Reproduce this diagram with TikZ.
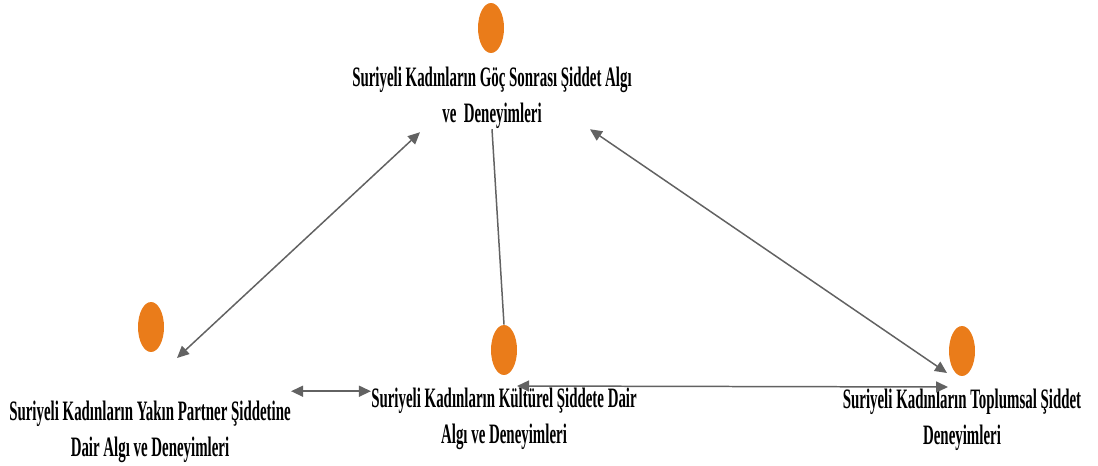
\documentclass[tikz,border=0pt]{standalone}
\usepackage{fontspec}
\newfontfamily\condserif[FakeStretch=0.53]{Liberation Serif}
\usetikzlibrary{arrows.meta, shapes.geometric}
\definecolor{dotorange}{RGB}{234, 124, 26}
\definecolor{linkgray}{RGB}{98, 98, 98}
\tikzset{
    themedot/.style={ellipse, fill=dotorange, minimum width=.52cm,
        minimum height=1cm, inner sep=0},
    themelabel/.style={align=center, inner sep=0,
        font=\condserif\bfseries\fontsize{16}{20.6}\selectfont},
    link/.style={draw=linkgray, line width=.85pt},
    twoway/.style={link, {Triangle[length=.24cm, width=.22cm]}-%
        {Triangle[length=.24cm, width=.22cm]}},
}

\begin{document}
\begin{tikzpicture}[x=.02cm, y=-.02cm]
        \useasboundingbox (0, 0) rectangle (1098, 466);

        % theme dots
        \node[themedot] (gocdot) at (491, 28) {};
        \node[themedot] (partnerdot) at (151, 327) {};
        \node[themedot] (kulturdot) at (504, 350) {};
        \node[themedot] (toplumdot) at (962, 351) {};

        % theme labels
        \node[themelabel] (goc) at (492, 98)
            {Suriyeli Kadınların Göç Sonrası Şiddet Algı\\ve\ \ Deneyimleri};
        \node[themelabel] (partner) at (150, 432)
            {Suriyeli Kadınların Yakın Partner Şiddetine\\Dair Algı ve Deneyimleri};
        \node[themelabel] (kultur) at (504, 419)
            {Suriyeli Kadınların Kültürel Şiddete Dair\\Algı ve Deneyimleri};
        \node[themelabel] (toplum) at (962, 420)
            {Suriyeli Kadınların Toplumsal Şiddet\\Deneyimleri};
        \coordinate (shortend) at ([yshift=-2]kultur.north west);

        % links
        \draw[twoway] ([shift={(26, 31)}]partnerdot.center)
            -- ([shift={(-72, 3)}]goc.south);
        \draw[link] (goc.south) -- (kulturdot.north);
        \draw[twoway] ([shift={(98, 0)}]goc.south)
            -- ([shift={(-15, 22)}]toplumdot.center);
        \draw[twoway] (shortend -| partner.east) -- (shortend);
        \draw[twoway] ([shift={(13, 36)}]kulturdot.center)
            -- ([shift={(-14, 36)}]toplumdot.center);
    \end{tikzpicture}
\end{document}
